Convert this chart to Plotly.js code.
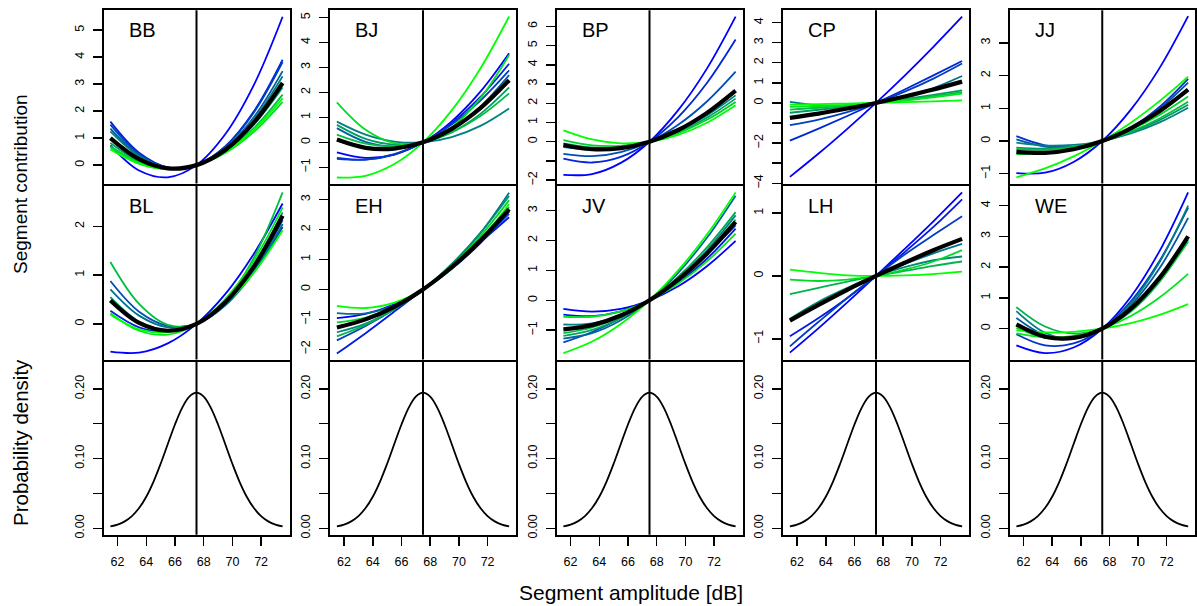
<!DOCTYPE html>
<html>
<head>
<meta charset="utf-8">
<script src="https://cdn.plot.ly/plotly-3.0.1.min.js"></script>
<style>
html,body{margin:0;padding:0;background:#fff;}
#chart{width:1197px;height:606px;}
</style>
</head>
<body>
<div id="chart"></div>
<script>
// ---------------- DATA ----------------
const amplitude = [61.5, 63.5, 65.5, 67.5, 69.5, 71.5, 73.5];

const BB_lines = [
  [0.73, -0.20, -0.45, 0, 1.14, 2.97, 5.49],
  [1.61, 0.46, -0.08, 0, 0.69, 1.99, 3.90],
  [1.50, 0.41, -0.09, 0, 0.68, 1.95, 3.81],
  [1.35, 0.36, -0.09, 0, 0.62, 1.78, 3.48],
  [1.25, 0.33, -0.09, 0, 0.59, 1.69, 3.29],
  [0.82, 0.14, -0.14, 0, 0.55, 1.50, 2.87],
  [0.70, 0.10, -0.13, 0, 0.50, 1.37, 2.61],
  [0.65, 0.10, -0.12, 0, 0.45, 1.23, 2.34],
  [0.58, 0.05, -0.15, 0, 0.48, 1.31, 2.47]
];
const BB_mean = [1.00, 0.22, -0.12, 0, 0.56, 1.58, 3.04];

const BJ_lines = [
  [-0.40, -0.62, -0.49, 0, 0.84, 2.03, 3.57],
  [-0.62, -0.69, -0.49, 0, 0.77, 1.82, 3.15],
  [-0.66, -0.69, -0.47, 0, 0.71, 1.67, 2.88],
  [0.57, 0.02, -0.17, 0, 0.53, 1.43, 2.69],
  [0.83, 0.31, 0.03, 0, 0.21, 0.66, 1.36],
  [0.70, 0.14, -0.09, 0, 0.41, 1.14, 2.20],
  [0.31, -0.05, -0.15, 0, 0.40, 1.05, 1.96],
  [1.60, 0.50, -0.03, 0, 0.60, 1.77, 3.50],
  [-1.41, -1.34, -0.87, 0, 1.28, 2.96, 5.04]
];
const BJ_mean = [0.11, -0.22, -0.25, 0, 0.54, 1.37, 2.49];

const BP_lines = [
  [-1.72, -1.68, -1.10, 0, 1.64, 3.80, 6.50],
  [-0.88, -1.08, -0.79, 0, 1.28, 3.05, 5.31],
  [-0.63, -0.75, -0.54, 0, 0.88, 2.09, 3.64],
  [-0.28, -0.42, -0.33, 0, 0.57, 1.37, 2.41],
  [-0.09, -0.30, -0.27, 0, 0.51, 1.25, 2.24],
  [0.08, -0.19, -0.21, 0, 0.45, 1.14, 2.07],
  [0.59, 0.12, -0.08, 0, 0.36, 0.99, 1.90]
];
const BP_mean = [-0.17, -0.39, -0.33, 0, 0.61, 1.50, 2.66];

const CP_lines = [
  [-3.68, -2.52, -1.29, 0, 1.36, 2.79, 4.29],
  [-1.88, -1.28, -0.65, 0, 0.67, 1.37, 2.09],
  [-1.11, -0.83, -0.46, 0, 0.56, 1.21, 1.96],
  [0.05, -0.12, -0.14, 0, 0.29, 0.74, 1.34],
  [-0.49, -0.34, -0.18, 0, 0.19, 0.40, 0.62],
  [-0.33, -0.24, -0.13, 0, 0.16, 0.34, 0.54],
  [-0.20, -0.16, -0.10, 0, 0.12, 0.28, 0.46],
  [-0.08, -0.06, -0.03, 0, 0.04, 0.08, 0.13]
];
const CP_mean = [-0.74, -0.53, -0.28, 0, 0.32, 0.67, 1.06];

const JJ_lines = [
  [-0.98, -0.97, -0.64, 0, 0.96, 2.23, 3.82],
  [0.15, -0.13, -0.18, 0, 0.41, 1.04, 1.90],
  [0.05, -0.17, -0.19, 0, 0.39, 0.99, 1.79],
  [-0.05, -0.14, -0.12, 0, 0.23, 0.57, 1.02],
  [-0.20, -0.23, -0.17, 0, 0.27, 0.64, 1.11],
  [-0.25, -0.27, -0.19, 0, 0.29, 0.69, 1.20],
  [-0.40, -0.37, -0.24, 0, 0.35, 0.80, 1.36],
  [-1.11, -0.84, -0.47, 0, 0.56, 1.22, 1.97]
];
const JJ_mean = [-0.33, -0.36, -0.25, 0, 0.39, 0.91, 1.57];

const BL_lines = [
  [-0.57, -0.59, -0.40, 0, 0.61, 1.44, 2.47],
  [0.27, -0.07, -0.16, 0, 0.41, 1.08, 1.99],
  [0.88, 0.25, -0.04, 0, 0.38, 1.09, 2.13],
  [0.71, 0.17, -0.07, 0, 0.38, 1.06, 2.05],
  [0.55, 0.05, -0.13, 0, 0.45, 1.21, 2.29],
  [1.27, 0.41, -0.02, 0, 0.46, 1.36, 2.70],
  [0.22, -0.14, -0.22, 0, 0.51, 1.30, 2.39],
  [0.19, -0.11, -0.17, 0, 0.41, 1.05, 1.92]
];
const BL_mean = [0.48, 0.02, -0.14, 0, 0.44, 1.18, 2.22];

const EH_lines = [
  [-0.96, -0.82, -0.50, 0, 0.68, 1.55, 2.60],
  [-2.14, -1.46, -0.74, 0, 0.77, 1.58, 2.41],
  [-1.70, -1.22, -0.66, 0, 0.75, 1.59, 2.52],
  [-0.79, -0.80, -0.53, 0, 0.81, 1.88, 3.23],
  [-1.43, -1.14, -0.66, 0, 0.85, 1.89, 3.12],
  [-1.57, -1.18, -0.65, 0, 0.79, 1.70, 2.75],
  [-1.10, -0.94, -0.58, 0, 0.78, 1.78, 2.98],
  [-0.55, -0.62, -0.44, 0, 0.69, 1.64, 2.85]
];
const EH_mean = [-1.27, -1.00, -0.58, 0, 0.74, 1.63, 2.68];

const JV_lines = [
  [-0.29, -0.38, -0.29, 0, 0.47, 1.14, 1.99],
  [-0.48, -0.53, -0.37, 0, 0.59, 1.39, 2.40],
  [-1.41, -1.06, -0.59, 0, 0.71, 1.55, 2.51],
  [-1.28, -1.10, -0.67, 0, 0.92, 2.09, 3.50],
  [-0.81, -0.77, -0.50, 0, 0.72, 1.67, 2.84],
  [-1.19, -0.99, -0.59, 0, 0.79, 1.77, 2.95],
  [-1.10, -0.91, -0.54, 0, 0.72, 1.62, 2.70],
  [-0.55, -0.55, -0.37, 0, 0.56, 1.30, 2.23],
  [-1.77, -1.38, -0.79, 0, 1.00, 2.20, 3.61]
];
const JV_mean = [-0.97, -0.83, -0.51, 0, 0.69, 1.56, 2.62];

const LH_lines = [
  [-1.22, -0.83, -0.42, 0, 0.43, 0.87, 1.33],
  [-0.96, -0.67, -0.35, 0, 0.38, 0.78, 1.22],
  [-1.12, -0.73, -0.35, 0, 0.34, 0.65, 0.95],
  [-0.69, -0.44, -0.21, 0, 0.19, 0.36, 0.51],
  [-0.68, -0.41, -0.19, 0, 0.14, 0.25, 0.31],
  [-0.29, -0.19, -0.09, 0, 0.08, 0.16, 0.23],
  [-0.06, -0.08, -0.06, 0, 0.10, 0.23, 0.41],
  [0.10, 0.05, 0.01, 0, 0.01, 0.03, 0.07]
];
const LH_mean = [-0.71, -0.46, -0.22, 0, 0.21, 0.41, 0.59];

const WE_lines = [
  [-0.54, -0.79, -0.61, 0, 1.04, 2.52, 4.43],
  [-0.18, -0.54, -0.48, 0, 0.89, 2.20, 3.93],
  [0.35, -0.21, -0.32, 0, 0.76, 1.96, 3.60],
  [0.57, -0.13, -0.32, 0, 0.83, 2.16, 4.00],
  [0.70, 0.07, -0.16, 0, 0.56, 1.52, 2.88],
  [0.03, -0.30, -0.31, 0, 0.62, 1.56, 2.82],
  [-0.15, -0.28, -0.23, 0, 0.41, 1.01, 1.78],
  [-0.05, -0.12, -0.10, 0, 0.18, 0.45, 0.80]
];
const WE_mean = [0.14, -0.26, -0.30, 0, 0.65, 1.65, 3.00];

const density_x = [61.5, 62, 62.5, 63, 63.5, 64, 64.5, 65, 65.5, 66, 66.5, 67, 67.5,
                   68, 68.5, 69, 69.5, 70, 70.5, 71, 71.5, 72, 72.5, 73, 73.5];
const density_y = [0.0027, 0.0053, 0.0099, 0.0175, 0.0290, 0.0453, 0.0667, 0.0925, 0.1209,
                   0.1489, 0.1728, 0.1889, 0.1946, 0.1889, 0.1728, 0.1489, 0.1209, 0.0925,
                   0.0667, 0.0453, 0.0290, 0.0175, 0.0099, 0.0053, 0.0027];
const reference_amplitude = 67.5;

const x_ticks = [62, 64, 66, 68, 70, 72];
const x_tick_labels = ["62", "64", "66", "68", "70", "72"];

// ---------------- STYLES ----------------
const BB_colors = ["#0000FF","#001FE0","#0040BF","#005EA1","#008080","#009E61","#00BF40","#00DE21","#00FF00"];
const BJ_colors = ["#0000FF","#001FE0","#0040BF","#005EA1","#008080","#009E61","#00BF40","#00DE21","#00FF00"];
const BP_colors = ["#0000FF","#0026D9","#004DB3","#008080","#00A659","#00CC33","#00FF00"];
const CP_colors = ["#0000FF","#0026D9","#0040BF","#00738C","#009966","#00BF40","#00E61A","#00FF00"];
const JJ_colors = ["#0000FF","#0033CC","#004DB3","#008080","#009966","#00BF40","#00D926","#00FF00"];
const BL_colors = ["#0000FF","#0026D9","#004DB3","#00738C","#009966","#00BF40","#00E61A","#00FF00"];
const EH_colors = ["#0000FF","#001AE6","#0040BF","#00738C","#008C73","#00B34D","#00D926","#00FF00"];
const JV_colors = ["#0000FF","#001AE6","#0040BF","#006699","#008080","#00A659","#00BF40","#00E61A","#00FF00"];
const LH_colors = ["#0000FF","#001AE6","#0040BF","#00738C","#008C73","#00B34D","#00D926","#00FF00"];
const WE_colors = ["#0000FF","#0033CC","#0059A6","#008080","#00B34D","#00CC33","#00E61A","#00FF00"];

const M = "\u2212";
const panels = [
  {name:"BB", lines:BB_lines, mean:BB_mean, colors:BB_colors, range:[-0.68,5.73], tv:[0,1,2,3,4,5], tt:["0","1","2","3","4","5"]},
  {name:"BJ", lines:BJ_lines, mean:BJ_mean, colors:BJ_colors, range:[-1.65,5.29], tv:[-1,0,1,2,3,4,5], tt:[M+"1","0","1","2","3","4","5"]},
  {name:"BP", lines:BP_lines, mean:BP_mean, colors:BP_colors, range:[-2.17,6.83], tv:[-2,-1,0,1,2,3,4,5,6], tt:[M+"2","","0","1","2","3","4","5","6"]},
  {name:"CP", lines:CP_lines, mean:CP_mean, colors:CP_colors, range:[-4.01,4.61], tv:[-4,-3,-2,-1,0,1,2,3,4], tt:[M+"4","",M+"2","","0","1","2","3","4"]},
  {name:"JJ", lines:JJ_lines, mean:JJ_mean, colors:JJ_colors, range:[-1.30,4.0], tv:[-1,0,1,2,3], tt:[M+"1","0","1","2","3"]},
  {name:"BL", lines:BL_lines, mean:BL_mean, colors:BL_colors, range:[-0.73,2.84], tv:[0,1,2], tt:["0","1","2"]},
  {name:"EH", lines:EH_lines, mean:EH_mean, colors:EH_colors, range:[-2.34,3.47], tv:[-2,-1,0,1,2,3], tt:[M+"2",M+"1","0","1","2","3"]},
  {name:"JV", lines:JV_lines, mean:JV_mean, colors:JV_colors, range:[-1.98,3.84], tv:[-1,0,1,2,3], tt:[M+"1","0","1","2","3"]},
  {name:"LH", lines:LH_lines, mean:LH_mean, colors:LH_colors, range:[-1.33,1.44], tv:[-1,0,1], tt:[M+"1","0","1"]},
  {name:"WE", lines:WE_lines, mean:WE_mean, colors:WE_colors, range:[-1.0,4.65], tv:[0,1,2,3,4], tt:["0","1","2","3","4"]}
];

const W = 1197, H = 606;
const colLeftLine = [102.5, 329, 555.5, 782, 1008.5];
const colRightLine = [290.5, 517, 743.5, 970, 1196];
const rowTopLine = [9.3, 184.5, 360.5];
const rowBotLine = [184.5, 360.5, 535.7];
const LW = 2;
const FONT = "Liberation Sans, Arial, Helvetica, sans-serif";

const traces = [];
const layout = {
  width: W, height: H,
  margin: {l:0, r:0, t:0, b:0},
  paper_bgcolor: "#ffffff", plot_bgcolor: "#ffffff",
  showlegend: false,
  font: {family: FONT, color: "#000", size: 12},
  annotations: [], shapes: []
};

function axisPair(idx, row, col, yRange, tv, tt) {
  const xs = idx === 1 ? "xaxis" : "xaxis" + idx;
  const ys = idx === 1 ? "yaxis" : "yaxis" + idx;
  const bottom = row === 2;
  const l = colLeftLine[col] + LW / 2, r = colRightLine[col] - LW / 2;
  const t = rowTopLine[row] + LW / 2, b = rowBotLine[row] - LW / 2;
  layout[xs] = {
    domain: [l / W, r / W],
    range: [61.02, 73.98], anchor: "y" + idx,
    showline: true, linewidth: LW, linecolor: "#000", mirror: true,
    showgrid: false, zeroline: false,
    ticks: bottom ? "outside" : "", ticklen: 9, tickwidth: 1.5, tickcolor: "#000",
    tickvals: x_ticks, ticktext: x_tick_labels,
    showticklabels: bottom, tickfont: {size: 12.5, family: FONT},
    ticklabelstandoff: 5
  };
  layout[ys] = {
    domain: [1 - b / H, 1 - t / H],
    range: yRange, anchor: "x" + idx,
    showline: true, linewidth: LW, linecolor: "#000", mirror: true,
    showgrid: false, zeroline: false,
    ticks: "outside", ticklen: 9, tickwidth: 1.5, tickcolor: "#000",
    tickvals: tv, ticktext: tt, tickangle: -90,
    tickfont: {size: 12.5, family: FONT},
    ticklabelstandoff: 4
  };
  layout.shapes.push({
    type: "line", xref: "x" + idx, yref: "y" + idx + " domain",
    x0: reference_amplitude, x1: reference_amplitude, y0: 0, y1: 1,
    line: {color: "#000", width: 2}
  });
}

panels.forEach((p, i) => {
  const row = Math.floor(i / 5), col = i % 5;
  const idx = row * 5 + col + 1;
  axisPair(idx, row, col, p.range, p.tv, p.tt);
  p.lines.forEach((ys, k) => {
    traces.push({
      type: "scatter", mode: "lines", x: amplitude, y: ys,
      xaxis: "x" + idx, yaxis: "y" + idx, hoverinfo: "skip",
      line: {color: p.colors[k], width: 1.8, shape: "spline", smoothing: 1}
    });
  });
  traces.push({
    type: "scatter", mode: "lines", x: amplitude, y: p.mean,
    xaxis: "x" + idx, yaxis: "y" + idx, hoverinfo: "skip",
    line: {color: "#000", width: 4.2, shape: "spline", smoothing: 1}
  });
  layout.annotations.push({
    xref: "paper", yref: "paper",
    x: (colLeftLine[col] + 24) / W, y: 1 - (rowTopLine[row] + 21) / H,
    xanchor: "left", yanchor: "middle", showarrow: false,
    text: p.name, font: {size: 20, family: FONT, color: "#000"}
  });
});

for (let col = 0; col < 5; col++) {
  const idx = 10 + col + 1;
  axisPair(idx, 2, col, [-0.0092, 0.2392], [0, 0.05, 0.10, 0.15, 0.20], ["0.00", "", "0.10", "", "0.20"]);
  traces.push({
    type: "scatter", mode: "lines", x: density_x, y: density_y,
    xaxis: "x" + idx, yaxis: "y" + idx, hoverinfo: "skip",
    line: {color: "#000", width: 1.8, shape: "spline", smoothing: 1}
  });
}

layout.annotations.push(
  {xref: "paper", yref: "paper", x: 20 / W, y: 1 - 184 / H, textangle: -90,
   xanchor: "center", yanchor: "middle", showarrow: false,
   text: "Segment contribution", font: {size: 19, family: FONT, color: "#000"}},
  {xref: "paper", yref: "paper", x: 20 / W, y: 1 - 443 / H, textangle: -90,
   xanchor: "center", yanchor: "middle", showarrow: false,
   text: "Probability density", font: {size: 20.5, family: FONT, color: "#000"}},
  {xref: "paper", yref: "paper", x: 631 / W, y: 1 - 592 / H,
   xanchor: "center", yanchor: "middle", showarrow: false,
   text: "Segment amplitude [dB]", font: {size: 21, family: FONT, color: "#000"}}
);

Plotly.newPlot("chart", traces, layout, {displayModeBar: false, staticPlot: true});
</script>
</body>
</html>
